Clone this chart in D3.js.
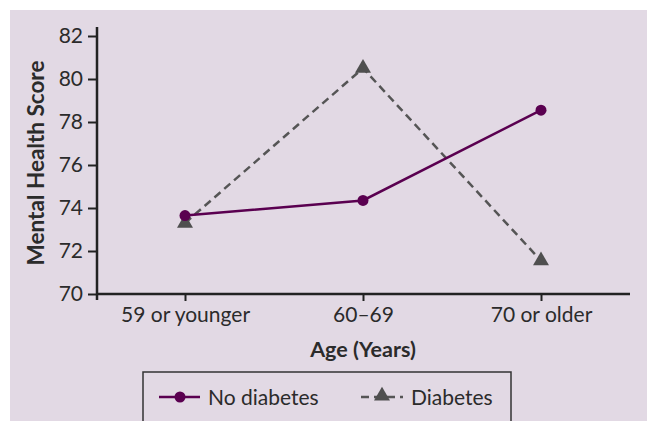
<!DOCTYPE html>
<html>
<head>
<meta charset="utf-8">
<script src="https://cdn.jsdelivr.net/npm/d3@7"></script>
<style>
  body { margin: 0; background: #fff; }
  svg text { font-family: "Lato", "Open Sans", sans-serif; fill: #2b2b2b; }
</style>
</head>
<body>
<div id="chart"></div>
<script>
// chart values
const ageGroups = ["59 or younger", "60–69", "70 or older"];
const noDiabetes = [73.65, 74.35, 78.55];
const diabetes = [73.3, 80.5, 71.55];
const yTicks = [70, 72, 74, 76, 78, 80, 82];

const width = 650, height = 421;
const margin = { top: 27, left: 97, right: 630, bottom: 294 };

const svg = d3.select("#chart").append("svg")
  .attr("width", width)
  .attr("height", height);

// lavender panel
svg.append("rect")
  .attr("x", 10).attr("y", 10)
  .attr("width", 637).attr("height", 411)
  .attr("fill", "#e2d9e4");

const x = d3.scalePoint()
  .domain(ageGroups)
  .range([185, 541]);

const y = d3.scaleLinear()
  .domain([70, 82])
  .range([294, 36]);

// y axis
const yAxis = svg.append("g")
  .attr("transform", `translate(${margin.left},0)`)
  .call(d3.axisLeft(y).tickValues(yTicks).tickSize(9).tickPadding(5));
yAxis.select(".domain").remove();
yAxis.selectAll(".tick line").attr("stroke", "#222").attr("stroke-width", 2);
yAxis.selectAll(".tick text").attr("font-size", 21);
svg.append("line")
  .attr("x1", margin.left).attr("x2", margin.left)
  .attr("y1", margin.top).attr("y2", 300)
  .attr("stroke", "#222").attr("stroke-width", 2.5);

// x axis
const xAxis = svg.append("g")
  .attr("transform", `translate(0,${margin.bottom})`)
  .call(d3.axisBottom(x).tickSize(7).tickPadding(6));
xAxis.select(".domain").remove();
xAxis.selectAll(".tick line").attr("stroke", "#222").attr("stroke-width", 2);
xAxis.selectAll(".tick text").attr("font-size", 21);
svg.append("line")
  .attr("x1", margin.left - 1).attr("x2", margin.right)
  .attr("y1", margin.bottom).attr("y2", margin.bottom)
  .attr("stroke", "#222").attr("stroke-width", 2.5);

// axis titles
svg.append("text")
  .attr("x", 363).attr("y", 357)
  .attr("text-anchor", "middle")
  .attr("font-size", 21.5).attr("font-weight", "bold")
  .text("Age (Years)");

svg.append("text")
  .attr("transform", "translate(44,163) rotate(-90)")
  .attr("text-anchor", "middle")
  .attr("font-size", 22.5).attr("font-weight", "bold")
  .text("Mental Health Score");

const line = d3.line()
  .x((d, i) => x(ageGroups[i]))
  .y(d => y(d));

// diabetes series (dashed, triangles)
svg.append("path")
  .datum(diabetes)
  .attr("d", line)
  .attr("fill", "none")
  .attr("stroke", "#555")
  .attr("stroke-width", 2.5)
  .attr("stroke-dasharray", "8,5");

const tri = d3.symbol().type(d3.symbolTriangle).size(110);
svg.selectAll(".tri")
  .data(diabetes)
  .join("path")
  .attr("class", "tri")
  .attr("d", tri)
  .attr("transform", (d, i) => `translate(${x(ageGroups[i])},${y(d)})`)
  .attr("fill", "#4f4f4f");

// no diabetes series (solid, circles)
svg.append("path")
  .datum(noDiabetes)
  .attr("d", line)
  .attr("fill", "none")
  .attr("stroke", "#5a0050")
  .attr("stroke-width", 2.5);

svg.selectAll(".dot")
  .data(noDiabetes)
  .join("circle")
  .attr("class", "dot")
  .attr("cx", (d, i) => x(ageGroups[i]))
  .attr("cy", d => y(d))
  .attr("r", 5.5)
  .attr("fill", "#5a0050");

// legend
const legend = svg.append("g");
legend.append("rect")
  .attr("x", 143).attr("y", 372)
  .attr("width", 368).attr("height", 60)
  .attr("fill", "none")
  .attr("stroke", "#333").attr("stroke-width", 1.5);

legend.append("line")
  .attr("x1", 159).attr("x2", 200).attr("y1", 397).attr("y2", 397)
  .attr("stroke", "#5a0050").attr("stroke-width", 2.5);
legend.append("circle")
  .attr("cx", 180).attr("cy", 397).attr("r", 5.5)
  .attr("fill", "#5a0050");
legend.append("text")
  .attr("x", 208).attr("y", 405)
  .attr("font-size", 21)
  .text("No diabetes");

legend.append("line")
  .attr("x1", 361).attr("x2", 403).attr("y1", 397).attr("y2", 397)
  .attr("stroke", "#555").attr("stroke-width", 2.5)
  .attr("stroke-dasharray", "8,5");
legend.append("path")
  .attr("d", tri)
  .attr("transform", "translate(382,396)")
  .attr("fill", "#4f4f4f");
legend.append("text")
  .attr("x", 411).attr("y", 405)
  .attr("font-size", 21)
  .text("Diabetes");
</script>
</body>
</html>
